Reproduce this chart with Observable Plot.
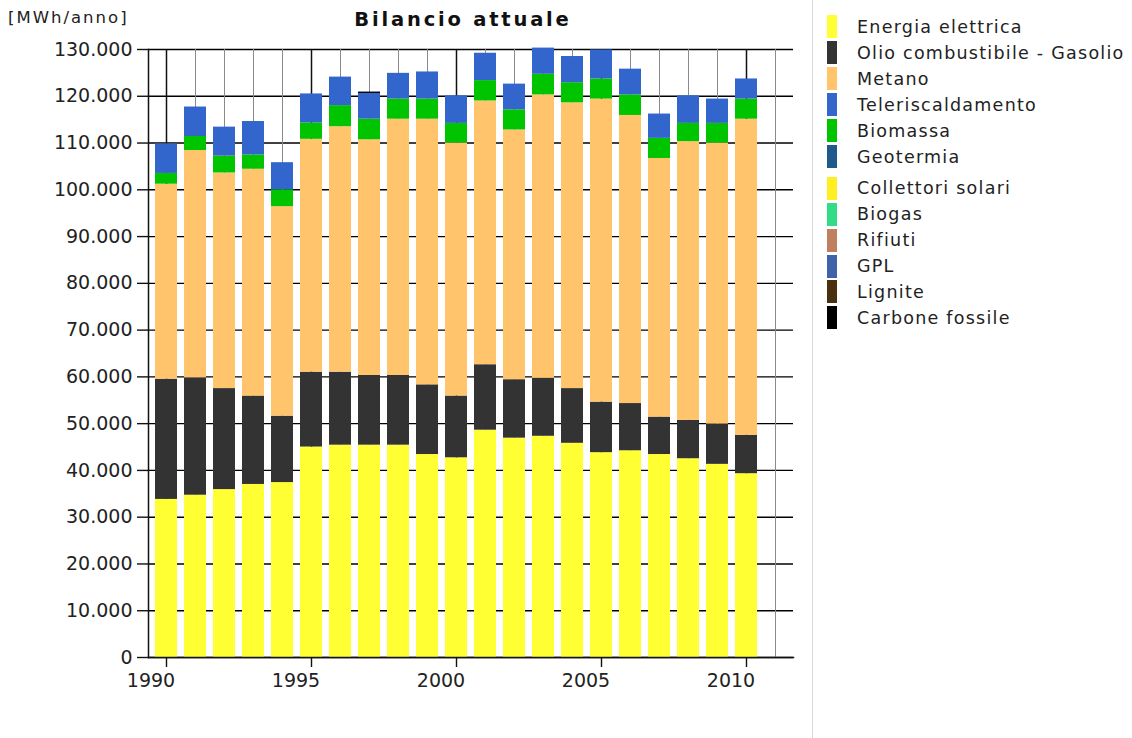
<!DOCTYPE html>
<html>
<head>
<meta charset="utf-8">
<script src="https://cdn.jsdelivr.net/npm/d3@7"></script>
<script src="https://cdn.jsdelivr.net/npm/@observablehq/plot@0.6"></script>
<style>
  html, body { margin: 0; padding: 0; background: #fff; }
  body { font-family: "DejaVu Sans", sans-serif; color: #222; }
  #wrap { display: flex; width: 1132px; height: 738px; overflow: hidden; }
  #left { width: 812px; height: 738px; }
  #hdr { position: relative; height: 38px; }
  #unit { position: absolute; left: 8px; top: 8px; font-size: 16.5px; letter-spacing: 2px; line-height: 20px; color: #222; white-space: nowrap; }
  #title { position: absolute; left: 148px; width: 630px; top: 9px; text-align: center; font-weight: bold; font-size: 19.5px; letter-spacing: 2.8px; line-height: 22px; color: #111; white-space: nowrap; }
  #legend { position: relative; width: 319px; height: 738px; border-left: 1px solid #d9d9d9; }
  .item { position: absolute; left: 0; height: 26px; display: flex; align-items: center; }
  .sw { position: absolute; left: 14px; width: 10px; height: 23px; }
  .lab { position: absolute; left: 44px; font-size: 17.5px; letter-spacing: 1.25px; white-space: nowrap; color: #222; line-height: 26px; }
</style>
</head>
<body>
<div id="wrap">
  <div id="left">
    <div id="hdr"><div id="unit">[MWh/anno]</div><div id="title">Bilancio attuale</div></div>
    <div id="chart"></div>
  </div>
  <div id="legend"></div>
</div>
<script>
// ---- data ----
const years = [1990,1991,1992,1993,1994,1995,1996,1997,1998,1999,2000,2001,2002,2003,2004,2005,2006,2007,2008,2009,2010];
const axisYears = [1990,1991,1992,1993,1994,1995,1996,1997,1998,1999,2000,2001,2002,2003,2004,2005,2006,2007,2008,2009,2010,2011];
const tickYears = [1990,1995,2000,2005,2010];
const yTicks = [0,10000,20000,30000,40000,50000,60000,70000,80000,90000,100000,110000,120000,130000];

const energiaElettrica  = [33800,34700,35900,37000,37400,45000,45400,45400,45400,43400,42700,48600,46900,47300,45800,43800,44200,43400,42500,41300,39300];
const olioGasolio       = [25700,25100,21600,18900,14200,16000,15600,14900,14900,14900,13200,14000,12500,12400,11700,10800,10100,8000,8200,8600,8200];
const metano            = [41700,48600,46100,48500,44800,49800,52500,50400,54800,56800,54100,56400,53400,60600,61100,64800,61600,55300,59600,60100,67600];
const biomassa          = [2300,3000,3600,3050,3600,3500,4500,4400,4300,4300,4200,4350,4300,4400,4300,4300,4400,4300,3900,4200,4300];
const teleriscaldamento = [6300,6300,6200,7150,5800,6200,6100,5500,5500,5800,5900,5850,5500,5600,5600,6200,5500,5200,5900,5200,4300];
const carboneFossile    = [0,0,0,0,0,0,0,300,0,0,0,0,0,0,0,0,0,0,0,0,0];

const legendNames  = ["Energia elettrica","Olio combustibile - Gasolio","Metano","Teleriscaldamento","Biomassa","Geotermia","Collettori solari","Biogas","Rifiuti","GPL","Lignite","Carbone fossile"];
const legendColors = ["#ffff33","#333333","#ffc46c","#3366cc","#00c400","#1f5a8c","#ffee22","#33dd88","#c08060","#3f62a8","#4b3010","#000000"];

// stacking order (bottom to top)
const stackSeries = [
  ["Energia elettrica", energiaElettrica],
  ["Olio combustibile - Gasolio", olioGasolio],
  ["Metano", metano],
  ["Biomassa", biomassa],
  ["Teleriscaldamento", teleriscaldamento],
  ["Carbone fossile", carboneFossile]
];
const rows = [];
for (const [name, vals] of stackSeries) years.forEach((yr, i) => rows.push({year: yr, series: name, value: vals[i]}));

const loc = d3.formatLocale({decimal: ",", thousands: ".", grouping: [3], currency: ["", " €"]});
const fmt = loc.format(",");

const chart = Plot.plot({
  width: 812,
  height: 700,
  marginTop: 11,
  marginBottom: 81,
  marginLeft: 148,
  marginRight: 19,
  style: {fontFamily: "DejaVu Sans", fontSize: "19px", color: "#222", background: "transparent", overflow: "visible"},
  x: {type: "band", domain: axisYears, paddingInner: 0.25, paddingOuter: 0.075, axis: null},
  y: {domain: [0, 130000], axis: null},
  color: {domain: legendNames, range: legendColors},
  marks: [
    Plot.ruleY(yTicks, {stroke: "#000", strokeWidth: 1.4}),
    Plot.ruleX(axisYears.filter(d => d % 5 !== 0), {x: d => d, y1: 0, y2: 130000, stroke: "#8a8a8a", strokeWidth: 1}),
    Plot.ruleX(tickYears, {x: d => d, y1: 0, y2: 130000, stroke: "#111", strokeWidth: 1.5}),
    Plot.barY(rows, {x: "year", y: "value", fill: "series"}),
    Plot.axisY({ticks: yTicks, tickFormat: fmt, tickSize: 11, tickPadding: 5, label: null, stroke: "#111", strokeWidth: 1.4, fill: "#222", letterSpacing: 1}),
    Plot.axisX({ticks: tickYears, tickSize: 10, tickFormat: () => "", label: null, stroke: "#111", strokeWidth: 1.4}),
    Plot.axisX({ticks: tickYears, tickSize: 0, tickPadding: 16, dx: -15.5, tickFormat: d => String(d), label: null, fill: "#222", letterSpacing: 0.3}),
    Plot.frame({anchor: "left", stroke: "#111", strokeWidth: 1.5}),
    Plot.frame({anchor: "bottom", stroke: "#111", strokeWidth: 1.5})
  ]
});
document.getElementById("chart").appendChild(chart);

// legend
const lg = document.getElementById("legend");
const tops1 = 13.7, tops2 = 175.3, step = 26;
legendNames.forEach((name, i) => {
  const top = i < 6 ? tops1 + i * step : tops2 + (i - 6) * 25.9;
  const it = document.createElement("div");
  it.className = "item";
  it.style.top = top + "px";
  const sw = document.createElement("div");
  sw.className = "sw";
  sw.style.background = legendColors[i];
  sw.style.top = "1.5px";
  const lab = document.createElement("div");
  lab.className = "lab";
  lab.textContent = name;
  lab.style.top = "0px";
  it.appendChild(sw); it.appendChild(lab);
  lg.appendChild(it);
});
</script>
</body>
</html>
